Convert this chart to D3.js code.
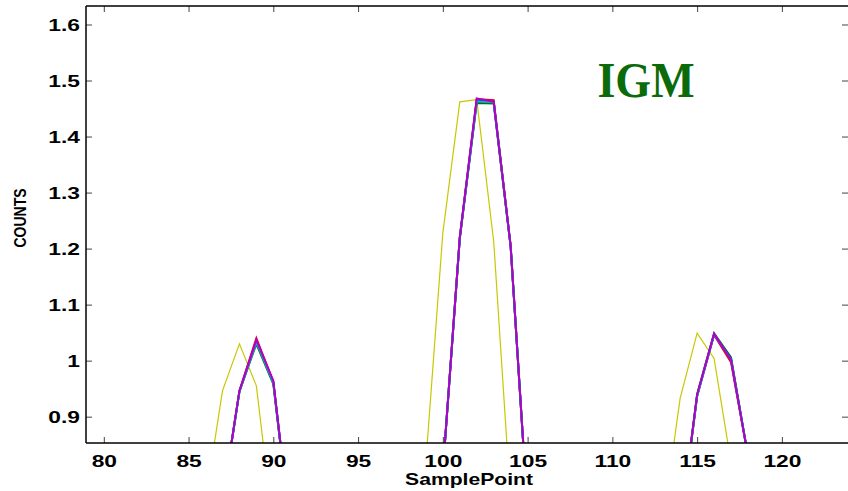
<!DOCTYPE html>
<html>
<head>
<meta charset="utf-8">
<script src="https://cdn.jsdelivr.net/npm/d3@7/dist/d3.min.js"></script>
<style>
  html, body { margin: 0; padding: 0; background: #ffffff; }
  svg { display: block; }
  text { font-family: "Liberation Sans", Arial, Helvetica, sans-serif; font-weight: bold; fill: #000; }
</style>
</head>
<body>
<svg id="chart" width="848" height="491"></svg>
<script>
// Sample point index along the x axis
const samplePoints = [
  80, 81, 82, 83, 84, 85, 86, 87, 88, 89, 90, 91, 92, 93, 94, 95, 96, 97, 98, 99, 100, 101,
  102, 103, 104, 105, 106, 107, 108, 109, 110, 111, 112, 113, 114, 115, 116, 117, 118, 119, 120, 121, 122, 123
];

// Counts per run (values below the axis floor fall outside the plot window)
const countsYellow = [
  0.60, 0.60, 0.60, 0.60, 0.60, 0.60, 0.75, 0.946, 1.030, 0.955, 0.70, 0.60, 0.60, 0.60, 0.60, 0.60, 0.60, 0.60, 0.60, 0.82, 1.228, 1.462,
  1.466, 1.213, 0.75, 0.60, 0.60, 0.60, 0.60, 0.60, 0.60, 0.60, 0.60, 0.716, 0.933, 1.049, 1.004, 0.818, 0.60, 0.60, 0.60, 0.60, 0.60, 0.60
];
const countsRed = [
  0.60, 0.60, 0.60, 0.60, 0.60, 0.60, 0.60, 0.748, 0.946, 1.040, 0.962, 0.70, 0.60, 0.60, 0.60, 0.60, 0.60, 0.60, 0.60, 0.60, 0.803, 1.220,
  1.467, 1.465, 1.205, 0.73, 0.60, 0.60, 0.60, 0.60, 0.60, 0.60, 0.60, 0.60, 0.70, 0.937, 1.046, 0.997, 0.83, 0.60, 0.60, 0.60, 0.60, 0.60
];
const countsGreen = [
  0.60, 0.60, 0.60, 0.60, 0.60, 0.60, 0.60, 0.748, 0.945, 1.030, 0.958, 0.70, 0.60, 0.60, 0.60, 0.60, 0.60, 0.60, 0.60, 0.60, 0.803, 1.218,
  1.460, 1.459, 1.203, 0.73, 0.60, 0.60, 0.60, 0.60, 0.60, 0.60, 0.60, 0.60, 0.70, 0.940, 1.049, 1.006, 0.83, 0.60, 0.60, 0.60, 0.60, 0.60
];
const countsBlue = [
  0.60, 0.60, 0.60, 0.60, 0.60, 0.60, 0.60, 0.748, 0.945, 1.034, 0.962, 0.70, 0.60, 0.60, 0.60, 0.60, 0.60, 0.60, 0.60, 0.60, 0.803, 1.219,
  1.464, 1.462, 1.204, 0.73, 0.60, 0.60, 0.60, 0.60, 0.60, 0.60, 0.60, 0.60, 0.70, 0.938, 1.047, 1.003, 0.83, 0.60, 0.60, 0.60, 0.60, 0.60
];
const countsCyan = [
  0.60, 0.60, 0.60, 0.60, 0.60, 0.60, 0.60, 0.748, 0.944, 1.033, 0.961, 0.70, 0.60, 0.60, 0.60, 0.60, 0.60, 0.60, 0.60, 0.60, 0.803, 1.219,
  1.463, 1.461, 1.204, 0.73, 0.60, 0.60, 0.60, 0.60, 0.60, 0.60, 0.60, 0.60, 0.70, 0.936, 1.047, 1.002, 0.83, 0.60, 0.60, 0.60, 0.60, 0.60
];
const countsMagenta = [
  0.60, 0.60, 0.60, 0.60, 0.60, 0.60, 0.60, 0.748, 0.946, 1.037, 0.964, 0.70, 0.60, 0.60, 0.60, 0.60, 0.60, 0.60, 0.60, 0.60, 0.803, 1.220,
  1.468, 1.462, 1.205, 0.73, 0.60, 0.60, 0.60, 0.60, 0.60, 0.60, 0.60, 0.60, 0.70, 0.939, 1.048, 1.001, 0.83, 0.60, 0.60, 0.60, 0.60, 0.60
];

const seriesNames = ["yellow", "red", "green", "blue", "cyan", "magenta"];
const seriesValues = [countsYellow, countsRed, countsGreen, countsBlue, countsCyan, countsMagenta];
const seriesColors = ["#c8c800", "#e0002a", "#006e1e", "#1030e0", "#00b8c8", "#b400c4"];
const seriesWidths = [1.2, 2, 2, 2, 2, 2];

const xTickValues = [80, 85, 90, 95, 100, 105, 110, 115, 120];
const yTickValues = [0.9, 1, 1.1, 1.2, 1.3, 1.4, 1.5, 1.6];
const yTickLabels = ["0.9", "1", "1.1", "1.2", "1.3", "1.4", "1.5", "1.6"];

const titleText = "IGM";
const xTitle = "SamplePoint";
const yTitle = "COUNTS";

// Plot frame
const plotLeft = 86, plotRight = 848, plotTop = 6, plotBottom = 443;
const stretch = 1.38; // horizontal widening of the axis lettering
const tickFont = 16.5;

const svg = d3.select("#chart");

const x = d3.scaleLinear().domain([78.95, 123.9]).range([plotLeft, plotRight]);
const y = d3.scaleLinear().domain([0.853, 1.633]).range([plotBottom, plotTop]);

svg.append("defs").append("clipPath").attr("id", "plot-clip")
  .append("rect").attr("x", plotLeft).attr("y", plotTop)
  .attr("width", plotRight - plotLeft).attr("height", plotBottom - plotTop);

// Series lines
const line = d3.line().x((d, i) => x(samplePoints[i])).y(d => y(d));
const plot = svg.append("g").attr("clip-path", "url(#plot-clip)");
seriesValues.forEach((vals, k) => {
  plot.append("path")
    .datum(vals)
    .attr("class", "series-" + seriesNames[k])
    .attr("fill", "none")
    .attr("stroke", seriesColors[k])
    .attr("stroke-width", seriesWidths[k])
    .attr("stroke-linejoin", "miter")
    .attr("d", line);
});

// Inward ticks on all four sides
function styleAxis(g) {
  g.select(".domain").remove();
  g.selectAll(".tick line").attr("stroke", "#444").attr("stroke-width", 1);
}

const axLeft = svg.append("g").attr("transform", `translate(${plotLeft},0)`)
  .call(d3.axisLeft(y).tickValues(yTickValues).tickSize(-6).tickPadding(0)
    .tickFormat((d, i) => yTickLabels[i]));
styleAxis(axLeft);
axLeft.selectAll(".tick text")
  .attr("x", null).attr("dy", null)
  .attr("font-size", tickFont).attr("text-anchor", "end")
  .attr("transform", `translate(-6,6) scale(${stretch},1)`);

const axRight = svg.append("g").attr("transform", `translate(${plotRight},0)`)
  .call(d3.axisRight(y).tickValues(yTickValues).tickSize(-6).tickFormat(""));
styleAxis(axRight);

const axBottom = svg.append("g").attr("transform", `translate(0,${plotBottom})`)
  .call(d3.axisBottom(x).tickValues(xTickValues).tickSize(-6).tickPadding(0).tickFormat(d3.format("d")));
styleAxis(axBottom);
axBottom.selectAll(".tick text")
  .attr("y", null).attr("dy", null)
  .attr("font-size", tickFont).attr("text-anchor", "middle")
  .attr("transform", `translate(0,23.5) scale(${stretch},1)`);

const axTop = svg.append("g").attr("transform", `translate(0,${plotTop})`)
  .call(d3.axisTop(x).tickValues(xTickValues).tickSize(-6).tickFormat(""));
styleAxis(axTop);

// Frame lines (left, top, bottom)
const frame = svg.append("g").attr("stroke", "#000").attr("stroke-width", 1.5).attr("fill", "none");
frame.append("line").attr("x1", plotLeft).attr("x2", plotLeft).attr("y1", plotTop).attr("y2", plotBottom);
frame.append("line").attr("x1", plotLeft).attr("x2", plotRight).attr("y1", plotTop).attr("y2", plotTop);
frame.append("line").attr("x1", plotLeft).attr("x2", plotRight).attr("y1", plotBottom).attr("y2", plotBottom);

// Axis titles
svg.append("text")
  .attr("text-anchor", "middle").attr("font-size", 16.5)
  .attr("transform", `translate(469,485) scale(1.28,1)`)
  .text(xTitle);

svg.append("text")
  .attr("text-anchor", "middle").attr("font-size", 14)
  .attr("transform", `translate(26,218) rotate(-90) scale(1,1.2)`)
  .text(yTitle);

// Panel title
svg.append("text")
  .attr("text-anchor", "middle")
  .attr("font-size", 50)
  .style("font-family", "'Liberation Serif', 'Times New Roman', serif")
  .style("fill", "#0b6b0b")
  .attr("transform", `translate(646,97) scale(0.92,1)`)
  .text(titleText);
</script>
</body>
</html>
